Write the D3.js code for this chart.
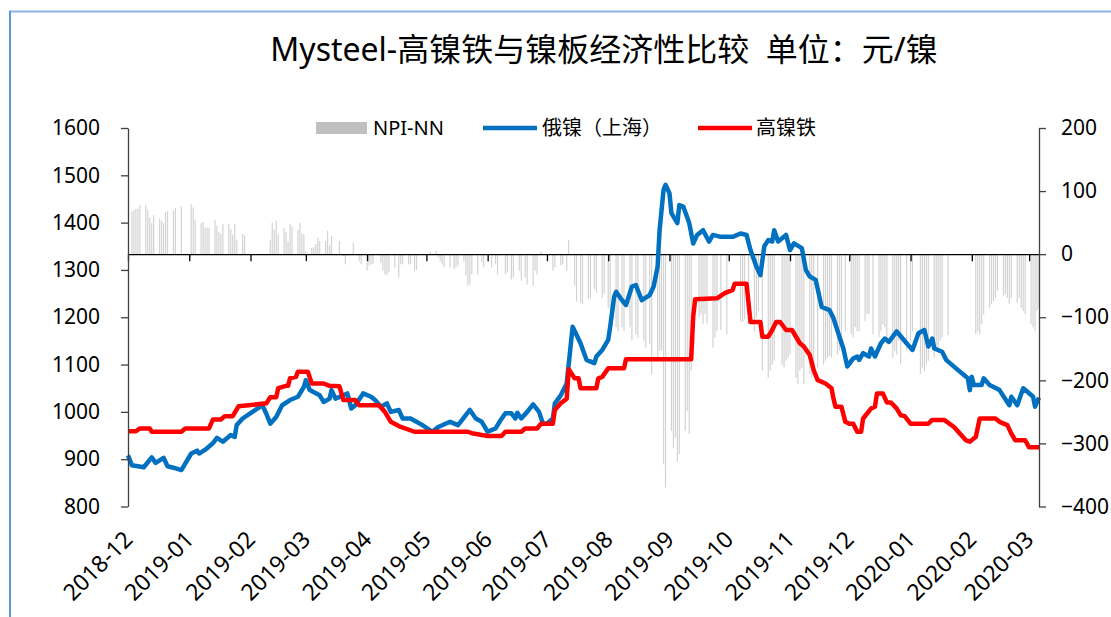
<!DOCTYPE html>
<meta charset="utf-8">
<style>
body { margin: 0; background: #fff; }
svg text { font-family: 'Noto Sans', 'Noto Sans CJK SC', sans-serif; fill: #000; }
</style>
<body>
<svg id="chart" width="1111" height="617"></svg>

<script src="https://d3js.org/d3.v7.min.js"></script>
<script>
var title = "Mysteel-高镍铁与镍板经济性比较  单位：元/镍";
var legendNames = ["NPI-NN", "俄镍（上海）", "高镍铁"];
var monthLabels = ["2018-12","2019-01","2019-02","2019-03","2019-04","2019-05","2019-06","2019-07",
                   "2019-08","2019-09","2019-10","2019-11","2019-12","2020-01","2020-02","2020-03"];
var leftTicks = [800, 900, 1000, 1100, 1200, 1300, 1400, 1500, 1600];
var rightTicks = [-400, -300, -200, -100, 0, 100, 200];

// 俄镍（上海）
var russianNickel = [
  ["2018-12-01",908],["2018-12-03",887],["2018-12-09",883],["2018-12-13",904],["2018-12-15",892],
  ["2018-12-19",903],["2018-12-21",885],["2018-12-24",882],["2018-12-28",877],["2019-01-02",912],
  ["2019-01-05",918],["2019-01-06",912],["2019-01-10",923],["2019-01-13",934],["2019-01-15",945],
  ["2019-01-18",937],["2019-01-22",951],["2019-01-24",947],["2019-01-25",972],["2019-01-28",986],
  ["2019-02-02",1000],["2019-02-07",1014],["2019-02-09",996],["2019-02-11",975],["2019-02-14",989],
  ["2019-02-17",1014],["2019-02-21",1025],["2019-02-25",1032],["2019-02-28",1053],["2019-03-01",1067],
  ["2019-03-03",1046],["2019-03-08",1035],["2019-03-10",1021],["2019-03-13",1028],["2019-03-14",1046],
  ["2019-03-16",1028],["2019-03-20",1035],["2019-03-22",1039],["2019-03-24",1007],["2019-03-26",1014],
  ["2019-03-30",1039],["2019-04-03",1032],["2019-04-05",1025],["2019-04-08",1011],["2019-04-11",1018],
  ["2019-04-13",1000],["2019-04-17",1004],["2019-04-19",986],["2019-04-23",986],["2019-04-29",972],
  ["2019-05-04",958],["2019-05-07",968],["2019-05-13",979],["2019-05-17",972],["2019-05-23",1004],
  ["2019-05-26",986],["2019-05-29",979],["2019-06-01",958],["2019-06-05",965],["2019-06-07",979],
  ["2019-06-10",997],["2019-06-13",997],["2019-06-15",986],["2019-06-16",998],["2019-06-18",986],
  ["2019-06-21",1000],["2019-06-24",1016],["2019-06-27",1000],["2019-06-29",975],["2019-07-01",975],
  ["2019-07-04",986],["2019-07-05",1018],["2019-07-08",1035],["2019-07-11",1060],["2019-07-14",1180],
  ["2019-07-18",1145],["2019-07-21",1110],["2019-07-25",1103],["2019-07-26",1117],["2019-07-29",1131],
  ["2019-08-01",1152],["2019-08-02",1180],["2019-08-04",1243],["2019-08-05",1254],["2019-08-08",1236],
  ["2019-08-10",1226],["2019-08-13",1265],["2019-08-15",1268],["2019-08-18",1236],["2019-08-22",1247],
  ["2019-08-24",1265],["2019-08-26",1307],["2019-08-27",1384],["2019-08-29",1469],["2019-08-30",1480],
  ["2019-09-01",1462],["2019-09-02",1420],["2019-09-05",1399],["2019-09-06",1437],["2019-09-08",1434],
  ["2019-09-11",1399],["2019-09-13",1356],["2019-09-15",1374],["2019-09-18",1384],["2019-09-21",1360],
  ["2019-09-23",1374],["2019-09-27",1370],["2019-10-03",1370],["2019-10-07",1377],["2019-10-10",1374],
  ["2019-10-12",1342],["2019-10-15",1307],["2019-10-17",1289],["2019-10-19",1350],["2019-10-21",1363],
  ["2019-10-23",1360],["2019-10-24",1384],["2019-10-26",1360],["2019-10-30",1374],["2019-11-01",1342],
  ["2019-11-03",1356],["2019-11-07",1346],["2019-11-09",1300],["2019-11-11",1286],["2019-11-14",1279],
  ["2019-11-17",1222],["2019-11-21",1215],["2019-11-23",1198],["2019-11-26",1159],["2019-11-28",1134],
  ["2019-11-30",1096],["2019-12-03",1113],["2019-12-05",1117],["2019-12-06",1110],["2019-12-08",1124],
  ["2019-12-11",1117],["2019-12-12",1134],["2019-12-14",1117],["2019-12-17",1145],["2019-12-19",1155],
  ["2019-12-21",1148],["2019-12-25",1170],["2019-12-28",1155],["2019-12-30",1145],["2020-01-02",1131],
  ["2020-01-05",1166],["2020-01-08",1173],["2020-01-10",1138],["2020-01-12",1155],["2020-01-13",1134],
  ["2020-01-17",1127],["2020-01-19",1110],["2020-01-24",1092],["2020-01-30",1071],["2020-01-31",1046],
  ["2020-02-01",1074],["2020-02-02",1057],["2020-02-06",1057],["2020-02-07",1071],["2020-02-10",1057],
  ["2020-02-15",1046],["2020-02-20",1014],["2020-02-21",1032],["2020-02-24",1014],["2020-02-27",1050],
  ["2020-02-29",1043],["2020-03-03",1032],["2020-03-04",1011],["2020-03-06",1030]
];

// 高镍铁
var highNpi = [
  ["2018-12-01",959],["2018-12-05",959],["2018-12-07",965],["2018-12-12",965],["2018-12-13",958],
  ["2018-12-28",958],["2018-12-30",965],["2019-01-11",965],["2019-01-13",984],["2019-01-17",984],
  ["2019-01-19",991],["2019-01-23",991],["2019-01-26",1012],["2019-02-09",1018],["2019-02-11",1031],
  ["2019-02-14",1031],["2019-02-15",1050],["2019-02-19",1055],["2019-02-20",1055],["2019-02-21",1071],
  ["2019-02-24",1074],["2019-02-25",1085],["2019-03-02",1085],["2019-03-04",1060],["2019-03-10",1060],
  ["2019-03-13",1055],["2019-03-18",1054],["2019-03-20",1025],["2019-03-26",1025],["2019-03-28",1014],
  ["2019-04-07",1014],["2019-04-10",1000],["2019-04-13",979],["2019-04-17",970],["2019-04-25",958],
  ["2019-05-22",958],["2019-05-24",955],["2019-06-01",949],["2019-06-08",949],["2019-06-10",958],
  ["2019-06-18",958],["2019-06-20",965],["2019-06-26",965],["2019-06-28",975],["2019-07-04",975],
  ["2019-07-05",1004],["2019-07-08",1018],["2019-07-11",1028],["2019-07-12",1090],["2019-07-15",1071],
  ["2019-07-17",1071],["2019-07-18",1050],["2019-07-26",1050],["2019-07-27",1071],["2019-07-29",1074],
  ["2019-08-01",1092],["2019-08-09",1092],["2019-08-10",1111],["2019-09-12",1111],["2019-09-13",1201],
  ["2019-09-14",1238],["2019-09-25",1240],["2019-09-29",1251],["2019-10-03",1258],["2019-10-04",1271],
  ["2019-10-10",1271],["2019-10-12",1190],["2019-10-17",1190],["2019-10-18",1159],["2019-10-21",1159],
  ["2019-10-23",1173],["2019-10-25",1190],["2019-10-27",1190],["2019-10-30",1173],["2019-11-02",1173],
  ["2019-11-06",1145],["2019-11-08",1138],["2019-11-11",1120],["2019-11-13",1088],["2019-11-15",1067],
  ["2019-11-19",1060],["2019-11-22",1050],["2019-11-23",1028],["2019-11-24",1011],["2019-11-27",1011],
  ["2019-11-29",979],["2019-12-01",975],["2019-12-03",975],["2019-12-05",958],["2019-12-07",958],
  ["2019-12-08",986],["2019-12-12",1007],["2019-12-14",1011],["2019-12-15",1039],["2019-12-18",1039],
  ["2019-12-20",1020],["2019-12-22",1020],["2019-12-25",1007],["2019-12-27",993],["2019-12-29",991],
  ["2020-01-01",975],["2020-01-10",975],["2020-01-12",983],["2020-01-18",983],["2020-01-23",968],
  ["2020-01-29",940],["2020-01-31",937],["2020-02-02",944],["2020-02-03",947],["2020-02-05",986],
  ["2020-02-13",986],["2020-02-15",979],["2020-02-19",972],["2020-02-21",954],["2020-02-23",940],
  ["2020-02-28",940],["2020-03-01",925],["2020-03-06",925]
];

// NPI-NN, weekly rows Mon..Fri (null = no value)
var spreadWeeks = [
  ["2018-12-03",[68,70,72,72,78]], ["2018-12-10",[78,70,58,49,62]], ["2018-12-17",[56,53,49,67,68]],
  ["2018-12-24",[69,73,null,null,76]], ["2018-12-31",[null,null,79,74,54]], ["2019-01-07",[49,51,42,42,42]],
  ["2019-01-14",[54,45,35,32,48]], ["2019-01-21",[48,40,31,48,23]], ["2019-01-28",[32,30,null,null,null]],
  ["2019-02-11",[23,50,39,53,31]], ["2019-02-18",[41,35,20,48,44]], ["2019-02-25",[38,50,33,31,5]],
  ["2019-03-04",[10,11,16,26,21]], ["2019-03-11",[21,37,15,29,null]], ["2019-03-18",[21,null,-3,-16,-3]],
  ["2019-03-25",[18,null,null,-11,-16]], ["2019-04-01",[-26,-18,-16,-16,null]], ["2019-04-08",[-14,-26,-32,-33,-29]],
  ["2019-04-15",[-21,null,-37,-16,-16]], ["2019-04-22",[-16,-16,null,-26,-25]], ["2019-04-29",[null,null,null,null,4]],
  ["2019-05-06",[5,-5,-11,-16,-21]], ["2019-05-13",[-21,null,-24,-21,-18]], ["2019-05-20",[-11,-34,-50,-48,-32]],
  ["2019-05-27",[-32,null,-13,-21,null]], ["2019-06-03",[-21,null,-16,-32,null]], ["2019-06-10",[-32,-29,null,-40,-37]],
  ["2019-06-17",[-26,-42,null,-37,-48]], ["2019-06-24",[-50,-26,-32,null,4]], ["2019-07-01",[null,null,null,-26,-21]],
  ["2019-07-08",[-18,-16,null,-26,22]], ["2019-07-15",[-50,-75,null,-77,-79]], ["2019-07-22",[-71,-69,null,-55,-61]],
  ["2019-07-29",[-69,-63,null,-85,-90]], ["2019-08-05",[-116,-122,null,-116,-122]], ["2019-08-12",[-116,-137,null,-127,-132]],
  ["2019-08-19",[-137,-148,null,-143,-190]], ["2019-08-26",[-164,-153,-153,-333,-370]], ["2019-09-02",[-280,-307,-291,-328,-317]],
  ["2019-09-09",[-280,-249,-285,-185,null]], ["2019-09-16",[-100,-95,-111,-95,-110]], ["2019-09-23",[-148,-132,-122,null,-120]],
  ["2019-09-30",[-127,null,null,null,null]], ["2019-10-07",[-106,-108,-103,null,-111]], ["2019-10-14",[-122,-100,-90,null,-185]],
  ["2019-10-21",[-196,-185,-175,-169,null]], ["2019-10-28",[-175,-180,-169,-164,-159]], ["2019-11-04",[-196,-206,-185,-180,-206]],
  ["2019-11-11",[-190,-196,-185,null,-180]], ["2019-11-18",[-175,-169,-164,-161,-164]], ["2019-11-25",[-159,-153,-148,null,-122]],
  ["2019-12-02",[-127,-132,-116,-122,-122]], ["2019-12-09",[-106,-95,-95,null,-127]], ["2019-12-16",[-132,-122,-111,-116,-143]],
  ["2019-12-23",[-164,-153,-159,-137,-175]], ["2019-12-30",[-153,null,-137,-122,null]], ["2020-01-06",[-190,-180,-185,-175,-169]],
  ["2020-01-13",[-164,-153,-148,-137,-132]], ["2020-01-20",[-128,null,null,null,null]], ["2020-02-03",[-127,-122,-127,-111,-95]],
  ["2020-02-10",[-85,-79,-74,-69,-58]], ["2020-02-17",[-66,-63,-69,-79,-69]], ["2020-02-24",[-77,-69,-85,-90,-95]],
  ["2020-03-02",[-111,-116,-122,-90,-85]]
];

var parse = d3.timeParse("%Y-%m-%d");

var bars = [];
spreadWeeks.forEach(function(w) {
  var monday = parse(w[0]);
  w[1].forEach(function(v, i) {
    if (v !== null) bars.push({date: d3.timeDay.offset(monday, i), value: v});
  });
});
var blue = russianNickel.map(function(d) { return {date: parse(d[0]), value: d[1]}; });
var red = highNpi.map(function(d) { return {date: parse(d[0]), value: d[1]}; });

var plotL = 128, plotR = 1039, plotT = 128, plotB = 506.5;

var x = d3.scaleTime()
    .domain([parse("2018-12-01"), parse("2020-03-06")])
    .range([plotL, plotR]);
var yL = d3.scaleLinear().domain([800, 1600]).range([plotB, plotT]);
var yR = d3.scaleLinear().domain([-400, 200]).range([plotB, plotT]);

var svg = d3.select("#chart");
svg.append("rect").attr("width", 1111).attr("height", 617).attr("fill", "#fff");

// frame
svg.append("line").attr("x1", 9).attr("x2", 1111).attr("y1", 11.5).attr("y2", 11.5)
    .attr("stroke", "#8db4e2").attr("stroke-width", 2);
svg.append("line").attr("x1", 10).attr("x2", 10).attr("y1", 11).attr("y2", 617)
    .attr("stroke", "#5b9bd5").attr("stroke-width", 2);

svg.append("text")
    .attr("x", 604).attr("y", 61)
    .attr("text-anchor", "middle")
    .style("font-size", "32px")
    .style("white-space", "pre")
    .text(title);

// bars
svg.append("g").selectAll("rect")
    .data(bars)
  .enter().append("rect")
    .attr("x", function(d) { return x(d.date) - 0.6; })
    .attr("width", 1.2)
    .attr("y", function(d) { return Math.min(yR(d.value), yR(0)); })
    .attr("height", function(d) { return Math.abs(yR(d.value) - yR(0)); })
    .attr("fill", "#d3d3d3");

// x axis on the zero line
var monthDates = monthLabels.map(function(m) { return parse(m + "-01"); });
var xAxis = svg.append("g")
    .attr("transform", "translate(0," + yR(0) + ")")
    .call(d3.axisBottom(x).tickValues(monthDates).tickSize(7).tickSizeOuter(0).tickFormat(""));
xAxis.select(".domain").attr("stroke", "#000").attr("stroke-width", 1.3);
xAxis.selectAll(".tick line").attr("stroke", "#000").attr("stroke-width", 1.3);

svg.append("g").selectAll("text")
    .data(monthDates)
  .enter().append("text")
    .attr("transform", function(d) { return "translate(" + (x(d) + 6) + ",541) rotate(-45)"; })
    .attr("text-anchor", "end")
    .style("font-size", "23px")
    .text(function(d, i) { return monthLabels[i]; });

var line = function(y) {
  return d3.line()
    .x(function(d) { return x(d.date); })
    .y(function(d) { return y(d.value); });
};

svg.append("path").datum(blue)
    .attr("d", line(yL))
    .attr("fill", "none").attr("stroke", "#0070c0").attr("stroke-width", 4.5)
    .attr("stroke-linejoin", "round");
svg.append("path").datum(red)
    .attr("d", line(yL))
    .attr("fill", "none").attr("stroke", "#ff0000").attr("stroke-width", 4.5)
    .attr("stroke-linejoin", "round");

// y axes
var gl = svg.append("g")
    .attr("transform", "translate(" + plotL + ",0)")
    .call(d3.axisLeft(yL).tickValues(leftTicks).tickSize(7).tickSizeOuter(0).tickPadding(21)
      .tickFormat(d3.format("d")));
var gr = svg.append("g")
    .attr("transform", "translate(" + plotR + ",0)")
    .call(d3.axisRight(yR).tickValues(rightTicks).tickSize(7).tickSizeOuter(0).tickPadding(15)
      .tickFormat(d3.format("d")));
[gl, gr].forEach(function(g) {
  g.select(".domain").attr("stroke", "#404040").attr("stroke-width", 1.3);
  g.selectAll(".tick line").attr("stroke", "#404040").attr("stroke-width", 1.3);
  g.selectAll(".tick text").style("font-size", "21px").attr("fill", "#000")
    .style("font-family", "'Noto Sans', sans-serif");
});

// legend
var lg = svg.append("g").style("font-size", "20px");
lg.append("rect").attr("x", 316).attr("y", 122).attr("width", 51).attr("height", 12).attr("fill", "#bfbfbf");
lg.append("text").attr("x", 373).attr("y", 135).text(legendNames[0]);
lg.append("line").attr("x1", 483).attr("x2", 537).attr("y1", 128).attr("y2", 128)
    .attr("stroke", "#0070c0").attr("stroke-width", 4.5);
lg.append("text").attr("x", 542).attr("y", 135).text(legendNames[1]);
lg.append("line").attr("x1", 698).attr("x2", 752).attr("y1", 128).attr("y2", 128)
    .attr("stroke", "#ff0000").attr("stroke-width", 4.5);
lg.append("text").attr("x", 756).attr("y", 135).text(legendNames[2]);
</script>
</body>
